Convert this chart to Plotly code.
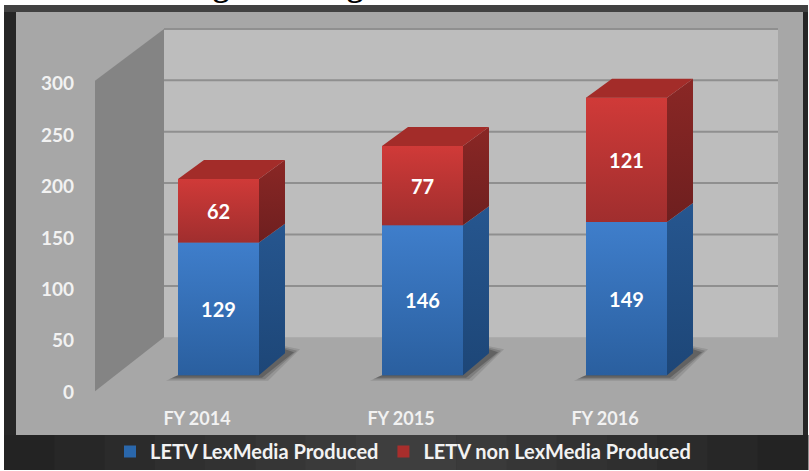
import plotly.graph_objects as go

# ---- data ----
categories = ["FY 2014", "FY 2015", "FY 2016"]
lexmedia = [129, 146, 149]
non_lexmedia = [62, 77, 121]
series_names = ["LETV LexMedia Produced", "LETV non LexMedia Produced"]
y_ticks = [0, 50, 100, 150, 200, 250, 300]
grid_values = [50, 100, 150, 200, 250, 300]

W, H = 809, 471
PX = 1.03          # pixels per unit of value
STEP = 204         # pixels per category
BAR_W = 81
DX, DY = 26, 19    # oblique depth of a bar
DY_BASE = 22


def yrange(zero_px):
    return [-(H - zero_px) / PX, zero_px / PX]


def xrange(center_px):
    return [-center_px / STEP, (W - center_px) / STEP]


fx = xrange(218.5)
half = BAR_W / 2 / STEP
ddx = DX / STEP
ddy = DY / PX
ddb = DY_BASE / PX

fig = go.Figure()


def poly(xs, ys, color=None, grad=None):
    kw = dict(x=xs, y=ys, mode="lines", line=dict(width=0), fill="toself",
              hoverinfo="skip", showlegend=False, xaxis="x", yaxis="y2")
    if grad:
        kw["fillgradient"] = dict(type="vertical",
                                  colorscale=[[0, grad[0]], [1, grad[1]]])
    else:
        kw["fillcolor"] = color
    fig.add_trace(go.Scatter(**kw))


# soft floor shadows
for i in range(len(categories)):
    for grow, alpha in ((6, 0.14), (3, 0.22), (0, 0.35)):
        g = grow / STEP
        poly([i - half - (6 / STEP) - g, i + half + 3 / STEP + g,
              i + half + ddx + (9 / STEP) + g, i + half + ddx, i - half],
             [-2.5 - grow / PX / 2, -2.5 - grow / PX / 2, ddb + 1 + grow / PX / 2,
              ddb + 4 + grow / PX / 2, 0],
             color=f"rgba(45,45,45,{alpha})")

base = [0, 0, 0]
palette = [("#2a5f9f", "#3f7ecb", "#1d4677", "#26568f", "#2a67ab"),
           ("#a02e2e", "#d03a38", "#6e1f1f", "#8a2725", "#a82e2c")]
for s, vals in enumerate([lexmedia, non_lexmedia]):
    grad_lo, grad_hi, side_lo, side_hi, bar_c = palette[s]
    fig.add_trace(go.Bar(x=list(range(3)), y=vals, base=base, name=series_names[s],
                         width=BAR_W / STEP, marker=dict(color=bar_c, line_width=0),
                         xaxis="x", yaxis="y2", hoverinfo="skip"))
    for i, v in enumerate(vals):
        b, t = base[i], base[i] + v
        poly([i - half, i + half, i + half, i - half],
             [b, b, t, t], grad=(grad_lo, grad_hi))
        poly([i + half, i + half + ddx, i + half + ddx, i + half],
             [b, b + (ddb if b == 0 else ddy), t + ddy, t], grad=(side_lo, side_hi))
    base = [b_ + v_ for b_, v_ in zip(base, vals)]

# top faces
for i, t in enumerate(base):
    poly([i - half, i + half, i + half + ddx, i - half + ddx],
         [t, t, t + ddy, t + ddy], color="#a32c29")

# value labels
for s, vals in enumerate([lexmedia, non_lexmedia]):
    b = [0, 0, 0] if s == 0 else lexmedia
    fig.add_trace(go.Scatter(
        x=list(range(3)), y=[b[i] + vals[i] / 2 - 3 / PX for i in range(3)], mode="text",
        text=[str(v) for v in vals], showlegend=False, hoverinfo="skip",
        textfont=dict(family="Lato", size=20, color="white", weight="bold"),
        xaxis="x", yaxis="y2"))


# background geometry
def rect(x0, y0, x1, y1, color):
    return dict(type="rect", xref="paper", yref="paper", x0=x0 / W, x1=x1 / W,
                y0=1 - y1 / H, y1=1 - y0 / H, fillcolor=color, line_width=0, layer="below")


shapes = [rect(0, 0, W, H, "white"), rect(4, 5, 808, H, "#262626"), rect(4, 5, 808, 12, "#414141")]
# lighter centre of the dark bottom strip, in small steps
N_STRIP = 16
for k in range(N_STRIP):
    x0 = 4 + k * (804 / N_STRIP)
    level = 34 + int(30 * (1 - abs(k + 0.5 - N_STRIP / 2) / (N_STRIP / 2)))
    shapes.append(rect(x0, 436, x0 + 804 / N_STRIP + 0.5, H, f"rgb({level},{level},{level})"))
shapes += [
    rect(16, 12, 803, 436, "#a7a7a7"),
    rect(164, 29, 778, 338, "#bdbdbd"),
    dict(type="path", xref="paper", yref="paper",
         path=f"M {95 / W} {1 - 392 / H} L {164 / W} {1 - 338 / H} L {164 / W} {1 - 29 / H} "
              f"L {95 / W} {1 - 81 / H} Z",
         fillcolor="#848484", line_width=0, layer="below"),
]
for g in grid_values:
    shapes.append(dict(type="line", xref="paper", yref="y3", x0=164 / W, x1=778 / W,
                       y0=g, y1=g, line=dict(color="#8f8f8f", width=2), layer="below"))

tick_font = dict(family="Lato", size=19, color="#f2f2f2", weight="bold")
cat_font = dict(family="Lato", size=18, color="#f2f2f2", weight="bold")
annotations = [
    dict(text="g", xref="paper", yref="paper", x=px / W, y=1, xanchor="center",
         yanchor="bottom", yshift=-5, showarrow=False,
         font=dict(family="Liberation Serif", size=32, color="black", weight="bold"))
    for px in (221, 355)
]
fig.update_layout(
    width=W, height=H, margin=dict(l=0, r=0, t=0, b=0),
    paper_bgcolor="white", plot_bgcolor="rgba(0,0,0,0)",
    barmode="overlay", shapes=shapes, annotations=annotations,
    xaxis=dict(range=fx, visible=False, fixedrange=True),
    xaxis2=dict(range=xrange(197), overlaying="x", anchor="free", position=1 - 407 / H,
                tickmode="array", tickvals=[0, 1, 2], ticktext=categories, side="bottom",
                showgrid=False, zeroline=False, showline=False, ticks="", tickfont=cat_font,
                fixedrange=True),
    yaxis=dict(range=yrange(393), anchor="free", position=74 / W, side="left",
               tickmode="array", tickvals=y_ticks, showgrid=False, zeroline=False,
               showline=False, ticks="", tickfont=tick_font, fixedrange=True),
    yaxis2=dict(range=yrange(376), overlaying="y", visible=False, fixedrange=True),
    yaxis3=dict(range=yrange(338), overlaying="y", visible=False, fixedrange=True),
    legend=dict(orientation="h", x=110 / W, xanchor="left", y=1 - 452 / H, yanchor="middle",
                bgcolor="rgba(0,0,0,0)", font=dict(family="Lato", size=20, color="#f2f2f2",
                                                   weight="bold"), itemclick=False),
)
# invisible points so the tick axes render
fig.add_trace(go.Scatter(x=[0], y=[0], xaxis="x2", yaxis="y", mode="markers",
                         marker=dict(opacity=0), showlegend=False, hoverinfo="skip"))
fig.add_trace(go.Scatter(x=[0], y=[0], xaxis="x", yaxis="y3", mode="markers",
                         marker=dict(opacity=0), showlegend=False, hoverinfo="skip"))
fig.write_html("out.html", post_script="document.body.style.margin='0';",
               config=dict(displayModeBar=False))
